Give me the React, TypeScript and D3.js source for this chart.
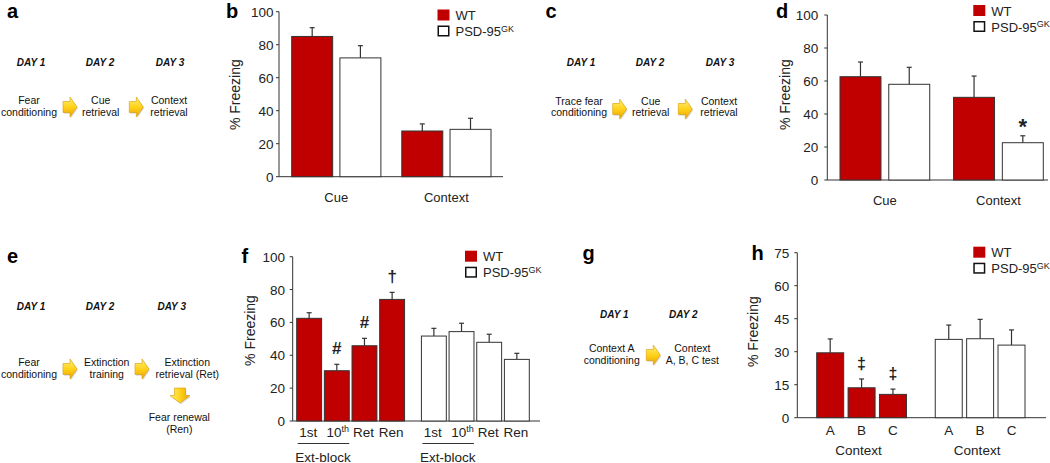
import React from "react";
import * as d3 from "d3";

const FONT = "'Liberation Sans', Arial, Helvetica, sans-serif";
const RED = "#c00000";
const INK = "#222222";
const LINE = "#333333";

const SERIES = ["WT", "PSD-95GK"];

// Panel b
const bCategories = ["Cue", "Context"];
const bWT = [85, 27.7];
const bWTErr = [5.3, 4.3];
const bPSD = [72, 28.7];
const bPSDErr = [7.4, 6.7];

// Panel d
const dCategories = ["Cue", "Context"];
const dWT = [62.6, 50.1];
const dWTErr = [8.9, 12.9];
const dPSD = [58, 22.6];
const dPSDErr = [10.3, 4.2];
const dPSDMarks = ["", "*"];

// Panel f
const fCategories = ["1st", "10th", "Ret", "Ren"];
const fWT = [62.5, 30.6, 45.8, 74];
const fWTErr = [3.4, 3.9, 4.5, 4.3];
const fWTMarks = ["", "#", "#", "†"];
const fPSD = [51.7, 54.4, 47.9, 37.5];
const fPSDErr = [4.7, 5.1, 4.9, 3.7];

// Panel h
const hCategories = ["A", "B", "C"];
const hWT = [29.5, 13.6, 10.6];
const hWTErr = [6.3, 4.0, 2.4];
const hWTMarks = ["", "‡", "‡"];
const hPSD = [35.6, 35.9, 33.0];
const hPSDErr = [6.5, 8.8, 6.9];

const ticks100 = [0, 20, 40, 60, 80, 100];
const ticks75 = [0, 15, 30, 45, 60, 75];

type Bar = { x: number; w: number; v: number; e: number; fill: string; mark?: string };

function YAxis({ y, ticks, x0, x1, gap }: { y: d3.ScaleLinear<number, number>; ticks: number[]; x0: number; x1: number; gap: number }) {
  const [yb, yt] = y.range();
  return (
    <g>
      <line x1={x0} x2={x0} y1={yt} y2={yb} stroke={LINE} strokeWidth={1} />
      <line x1={x0} x2={x1} y1={yb} y2={yb} stroke={LINE} strokeWidth={1} />
      {ticks.map((t) => (
        <g key={t}>
          <line x1={x0 - 3} x2={x0} y1={y(t)} y2={y(t)} stroke={LINE} strokeWidth={1} />
          <text x={x0 - gap} y={y(t) + 5} textAnchor="end" fontSize={13.5} fill={INK}>
            {t}
          </text>
        </g>
      ))}
    </g>
  );
}

function Bars({ bars, y, markSize = 17, markOffset = 10 }: { bars: Bar[]; y: d3.ScaleLinear<number, number>; markSize?: number; markOffset?: number }) {
  return (
    <g>
      {bars.map((b, i) => {
        const cx = b.x + b.w / 2;
        const top = y(b.v);
        const et = y(b.v + b.e);
        return (
          <g key={i}>
            <line x1={cx} x2={cx} y1={top} y2={et} stroke={LINE} strokeWidth={1.2} />
            <line x1={cx - 2.5} x2={cx + 2.5} y1={et} y2={et} stroke={LINE} strokeWidth={1.2} />
            <rect x={b.x} y={top} width={b.w} height={y(0) - top} fill={b.fill} stroke={LINE} strokeWidth={1} />
            {b.mark ? (
              <text x={cx} y={et - markOffset} textAnchor="middle" fontSize={markSize} fontWeight="bold" fill={INK}>
                {b.mark}
              </text>
            ) : null}
          </g>
        );
      })}
    </g>
  );
}

function Legend({ x, y }: { x: number; y: number }) {
  return (
    <g>
      <rect x={x} y={y} width={12} height={11} fill={RED} />
      <text x={x + 18} y={y + 10.5} fontSize={13} fill={INK}>WT</text>
      <rect x={x + 0.75} y={y + 16.75} width={10.5} height={9.5} fill="#fff" stroke="#111" strokeWidth={1.5} />
      <text x={x + 18} y={y + 26.5} fontSize={13} fill={INK}>
        PSD-95<tspan dy={-4.5} fontSize={9}>GK</tspan>
      </text>
    </g>
  );
}

function YLabel({ x, y }: { x: number; y: number }) {
  return (
    <text transform={`translate(${x},${y}) rotate(-90)`} textAnchor="middle" dominantBaseline="central" fontSize={14} fill={INK}>
      % Freezing
    </text>
  );
}

function PanelLetter({ x, y, t }: { x: number; y: number; t: string }) {
  return (
    <text x={x} y={y} fontSize={20} fontWeight="bold" fill="#000">
      {t}
    </text>
  );
}

function RightArrow({ cx, cy }: { cx: number; cy: number }) {
  const pts = [
    [-7, -5.5], [0, -5.5], [0, -10], [7, 0], [0, 10], [0, 5.5], [-7, 5.5],
  ];
  const p = pts.map(([a, b]) => `${cx + a},${cy + b}`).join(" ");
  const s = pts.map(([a, b]) => `${cx + a + 1},${cy + b + 1.2}`).join(" ");
  return (
    <g>
      <polygon points={s} fill="#000" opacity={0.15} />
      <polygon points={p} fill="url(#arrowGrad)" stroke="#d99a00" strokeWidth={0.6} />
    </g>
  );
}

function DownArrow({ cx, cy }: { cx: number; cy: number }) {
  const pts = [
    [-5.5, -7.5], [5.5, -7.5], [5.5, 0], [10, 0], [0, 7.5], [-10, 0], [-5.5, 0],
  ];
  const p = pts.map(([a, b]) => `${cx + a},${cy + b}`).join(" ");
  const s = pts.map(([a, b]) => `${cx + a + 1},${cy + b + 1.2}`).join(" ");
  return (
    <g>
      <polygon points={s} fill="#000" opacity={0.15} />
      <polygon points={p} fill="url(#arrowGradD)" stroke="#d99a00" strokeWidth={0.6} />
    </g>
  );
}

function Protocol({ days, dayXs, dayY, steps, stepXs, stepY }: { days: string[]; dayXs: number[]; dayY: number; steps: string[][]; stepXs: number[]; stepY: number }) {
  return (
    <g>
      {days.map((d, i) => (
        <text key={d} x={dayXs[i]} y={dayY} textAnchor="middle" fontSize={10} fontWeight="bold" fontStyle="italic" fill="#111">
          {d}
        </text>
      ))}
      {steps.map((lines, i) =>
        lines.map((ln, j) => (
          <text key={`${i}-${j}`} x={stepXs[i]} y={stepY + j * 11.8} textAnchor="middle" fontSize={10.5} fill="#111">
            {ln}
          </text>
        ))
      )}
    </g>
  );
}

export default function App() {
  // ---------- Panel b ----------
  const bY = d3.scaleLinear().domain([0, 100]).range([176.7, 11.7]);
  const bX = d3.scaleBand<string>().domain(bCategories).range([291.7, 491]).paddingInner(0.19);
  const bXi = d3.scaleBand<string>().domain(SERIES).range([0, bX.bandwidth()]).paddingInner(0.15);
  const bBars: Bar[] = bCategories.flatMap((c, i) => [
    { x: bX(c)! + bXi(SERIES[0])!, w: bXi.bandwidth(), v: bWT[i], e: bWTErr[i], fill: RED },
    { x: bX(c)! + bXi(SERIES[1])!, w: bXi.bandwidth(), v: bPSD[i], e: bPSDErr[i], fill: "#fff" },
  ]);

  // ---------- Panel d ----------
  const dY = d3.scaleLinear().domain([0, 100]).range([180, 15]);
  const dX = d3.scaleBand<string>().domain(dCategories).range([840, 1043.3]).paddingInner(0.21);
  const dXi = d3.scaleBand<string>().domain(SERIES).range([0, dX.bandwidth()]).paddingInner(0.16);
  const dBars: Bar[] = dCategories.flatMap((c, i) => [
    { x: dX(c)! + dXi(SERIES[0])!, w: dXi.bandwidth(), v: dWT[i], e: dWTErr[i], fill: RED },
    { x: dX(c)! + dXi(SERIES[1])!, w: dXi.bandwidth(), v: dPSD[i], e: dPSDErr[i], fill: "#fff", mark: dPSDMarks[i] },
  ]);

  // ---------- Panel f ----------
  const fY = d3.scaleLinear().domain([0, 100]).range([421, 256.7]);
  const fX = d3.scaleBand<string>().domain(SERIES).range([296.7, 529.3]).paddingInner(0.135);
  const fXi = d3.scaleBand<string>().domain(fCategories).range([0, fX.bandwidth()]).paddingInner(0.1);
  const fBars: Bar[] = [
    ...fCategories.map((c, i) => ({ x: fX(SERIES[0])! + fXi(c)!, w: fXi.bandwidth(), v: fWT[i], e: fWTErr[i], fill: RED, mark: fWTMarks[i] })),
    ...fCategories.map((c, i) => ({ x: fX(SERIES[1])! + fXi(c)!, w: fXi.bandwidth(), v: fPSD[i], e: fPSDErr[i], fill: "#fff" })),
  ];

  // ---------- Panel h ----------
  const hY = d3.scaleLinear().domain([0, 75]).range([417.7, 252.7]);
  const hX = d3.scaleBand<string>().domain(SERIES).range([816.7, 1025]).paddingInner(0.243);
  const hXi = d3.scaleBand<string>().domain(hCategories).range([0, hX.bandwidth()]).paddingInner(0.14);
  const hBars: Bar[] = [
    ...hCategories.map((c, i) => ({ x: hX(SERIES[0])! + hXi(c)!, w: hXi.bandwidth(), v: hWT[i], e: hWTErr[i], fill: RED, mark: hWTMarks[i] })),
    ...hCategories.map((c, i) => ({ x: hX(SERIES[1])! + hXi(c)!, w: hXi.bandwidth(), v: hPSD[i], e: hPSDErr[i], fill: "#fff" })),
  ];

  return (
    <svg
      width={1050}
      height={463}
      viewBox="0 0 1050 463"
      style={{ position: "absolute", left: 0, top: 0, background: "#fff" }}
      fontFamily={FONT}
    >
      <defs>
        <linearGradient id="arrowGrad" x1="0" y1="0" x2="0" y2="1">
          <stop offset="0" stopColor="#fff07a" />
          <stop offset="0.5" stopColor="#ffd21a" />
          <stop offset="1" stopColor="#eaa400" />
        </linearGradient>
        <linearGradient id="arrowGradD" x1="0" y1="0" x2="1" y2="0">
          <stop offset="0" stopColor="#fff07a" />
          <stop offset="0.5" stopColor="#ffd21a" />
          <stop offset="1" stopColor="#eaa400" />
        </linearGradient>
      </defs>
      <rect x={0} y={0} width={1050} height={463} fill="#fff" />

      {/* Panel a */}
      <PanelLetter x={7} y={17.5} t="a" />
      <Protocol
        days={["DAY 1", "DAY 2", "DAY 3"]}
        dayXs={[31, 100, 170]}
        dayY={65.5}
        steps={[["Fear", "conditioning"], ["Cue", "retrieval"], ["Context", "retrieval"]]}
        stepXs={[29, 100.7, 169]}
        stepY={104}
      />
      <RightArrow cx={70} cy={107} />
      <RightArrow cx={136.3} cy={107} />

      {/* Panel b */}
      <PanelLetter x={226} y={17.5} t="b" />
      <YAxis y={bY} ticks={ticks100} x0={279} x1={503} gap={5.5} />
      <Bars bars={bBars} y={bY} />
      {bCategories.map((c) => (
        <text key={c} x={bX(c)! + bX.bandwidth() / 2} y={201.5} textAnchor="middle" fontSize={13} fill={INK}>
          {c}
        </text>
      ))}
      <YLabel x={235} y={94.7} />
      <Legend x={437.5} y={9.5} />

      {/* Panel c */}
      <PanelLetter x={545.5} y={17.5} t="c" />
      <Protocol
        days={["DAY 1", "DAY 2", "DAY 3"]}
        dayXs={[581, 650, 720]}
        dayY={66}
        steps={[["Trace fear", "conditioning"], ["Cue", "retrieval"], ["Context", "retrieval"]]}
        stepXs={[579, 650.7, 719]}
        stepY={104.5}
      />
      <RightArrow cx={619.7} cy={109} />
      <RightArrow cx={685.3} cy={109} />

      {/* Panel d */}
      <PanelLetter x={776} y={17.5} t="d" />
      <YAxis y={dY} ticks={ticks100} x0={827.3} x1={1048} gap={9} />
      <Bars bars={dBars} y={dY} markSize={22} markOffset={2} />
      {dCategories.map((c) => (
        <text key={c} x={dX(c)! + dX.bandwidth() / 2} y={205} textAnchor="middle" fontSize={13} fill={INK}>
          {c}
        </text>
      ))}
      <YLabel x={785} y={94.7} />
      <Legend x={973.3} y={5} />

      {/* Panel e */}
      <PanelLetter x={7} y={263.3} t="e" />
      <Protocol
        days={["DAY 1", "DAY 2", "DAY 3"]}
        dayXs={[31, 100, 171.7]}
        dayY={309.6}
        steps={[["Fear", "conditioning"], ["Extinction", "training"], ["Extinction", "retrieval (Ret)"]]}
        stepXs={[29, 106.7, 187.3]}
        stepY={366}
      />
      <RightArrow cx={70} cy={369} />
      <RightArrow cx={142} cy={369} />
      <DownArrow cx={180} cy={395.5} />
      <Protocol days={[]} dayXs={[]} dayY={0} steps={[["Fear renewal", "(Ren)"]]} stepXs={[179.3]} stepY={421} />

      {/* Panel f */}
      <PanelLetter x={241.5} y={263.3} t="f" />
      <YAxis y={fY} ticks={ticks100} x0={292.7} x1={540} gap={7.7} />
      <Bars bars={fBars} y={fY} markSize={17} markOffset={10} />
      {SERIES.map((s) => (
        <g key={s}>
          {fCategories.map((c) => {
            const cx = fX(s)! + fXi(c)! + fXi.bandwidth() / 2;
            return c === "10th" ? (
              <text key={c} x={cx + 1} y={437} textAnchor="middle" fontSize={13.5} fill={INK}>
                10<tspan dy={-5} fontSize={9}>th</tspan>
              </text>
            ) : (
              <text key={c} x={cx - 1} y={437} textAnchor="middle" fontSize={13.5} fill={INK}>
                {c}
              </text>
            );
          })}
          <line
            x1={fX(s)! + fXi(fCategories[0])! + 1}
            x2={fX(s)! + fXi(fCategories[1])! + fXi.bandwidth()}
            y1={443.5}
            y2={443.5}
            stroke={LINE}
            strokeWidth={1}
          />
          <text
            x={(fX(s)! + fXi(fCategories[0])! + fX(s)! + fXi(fCategories[1])! + fXi.bandwidth()) / 2}
            y={461.5}
            textAnchor="middle"
            fontSize={13.5}
            fill={INK}
          >
            Ext-block
          </text>
        </g>
      ))}
      <YLabel x={250} y={330.5} />
      <Legend x={465} y={250.7} />

      {/* Panel g */}
      <PanelLetter x={582.5} y={259.5} t="g" />
      <Protocol
        days={["DAY 1", "DAY 2"]}
        dayXs={[614.3, 683.3]}
        dayY={318}
        steps={[["Context A", "conditioning"], ["Context", "A, B, C test"]]}
        stepXs={[611.7, 692.3]}
        stepY={352}
      />
      <RightArrow cx={653.3} cy={355} />

      {/* Panel h */}
      <PanelLetter x={751.5} y={260} t="h" />
      <YAxis y={hY} ticks={ticks75} x0={797.3} x1={1046} gap={8} />
      <Bars bars={hBars} y={hY} markSize={16} markOffset={10} />
      {SERIES.map((s) => (
        <g key={s}>
          {hCategories.map((c) => (
            <text key={c} x={hX(s)! + hXi(c)! + hXi.bandwidth() / 2} y={434.5} textAnchor="middle" fontSize={13.5} fill={INK}>
              {c}
            </text>
          ))}
          <text x={hX(s)! + hX.bandwidth() / 2 - 3} y={455} textAnchor="middle" fontSize={13.5} fill={INK}>
            Context
          </text>
        </g>
      ))}
      <YLabel x={753.3} y={331.7} />
      <Legend x={973.3} y={246.7} />
    </svg>
  );
}
